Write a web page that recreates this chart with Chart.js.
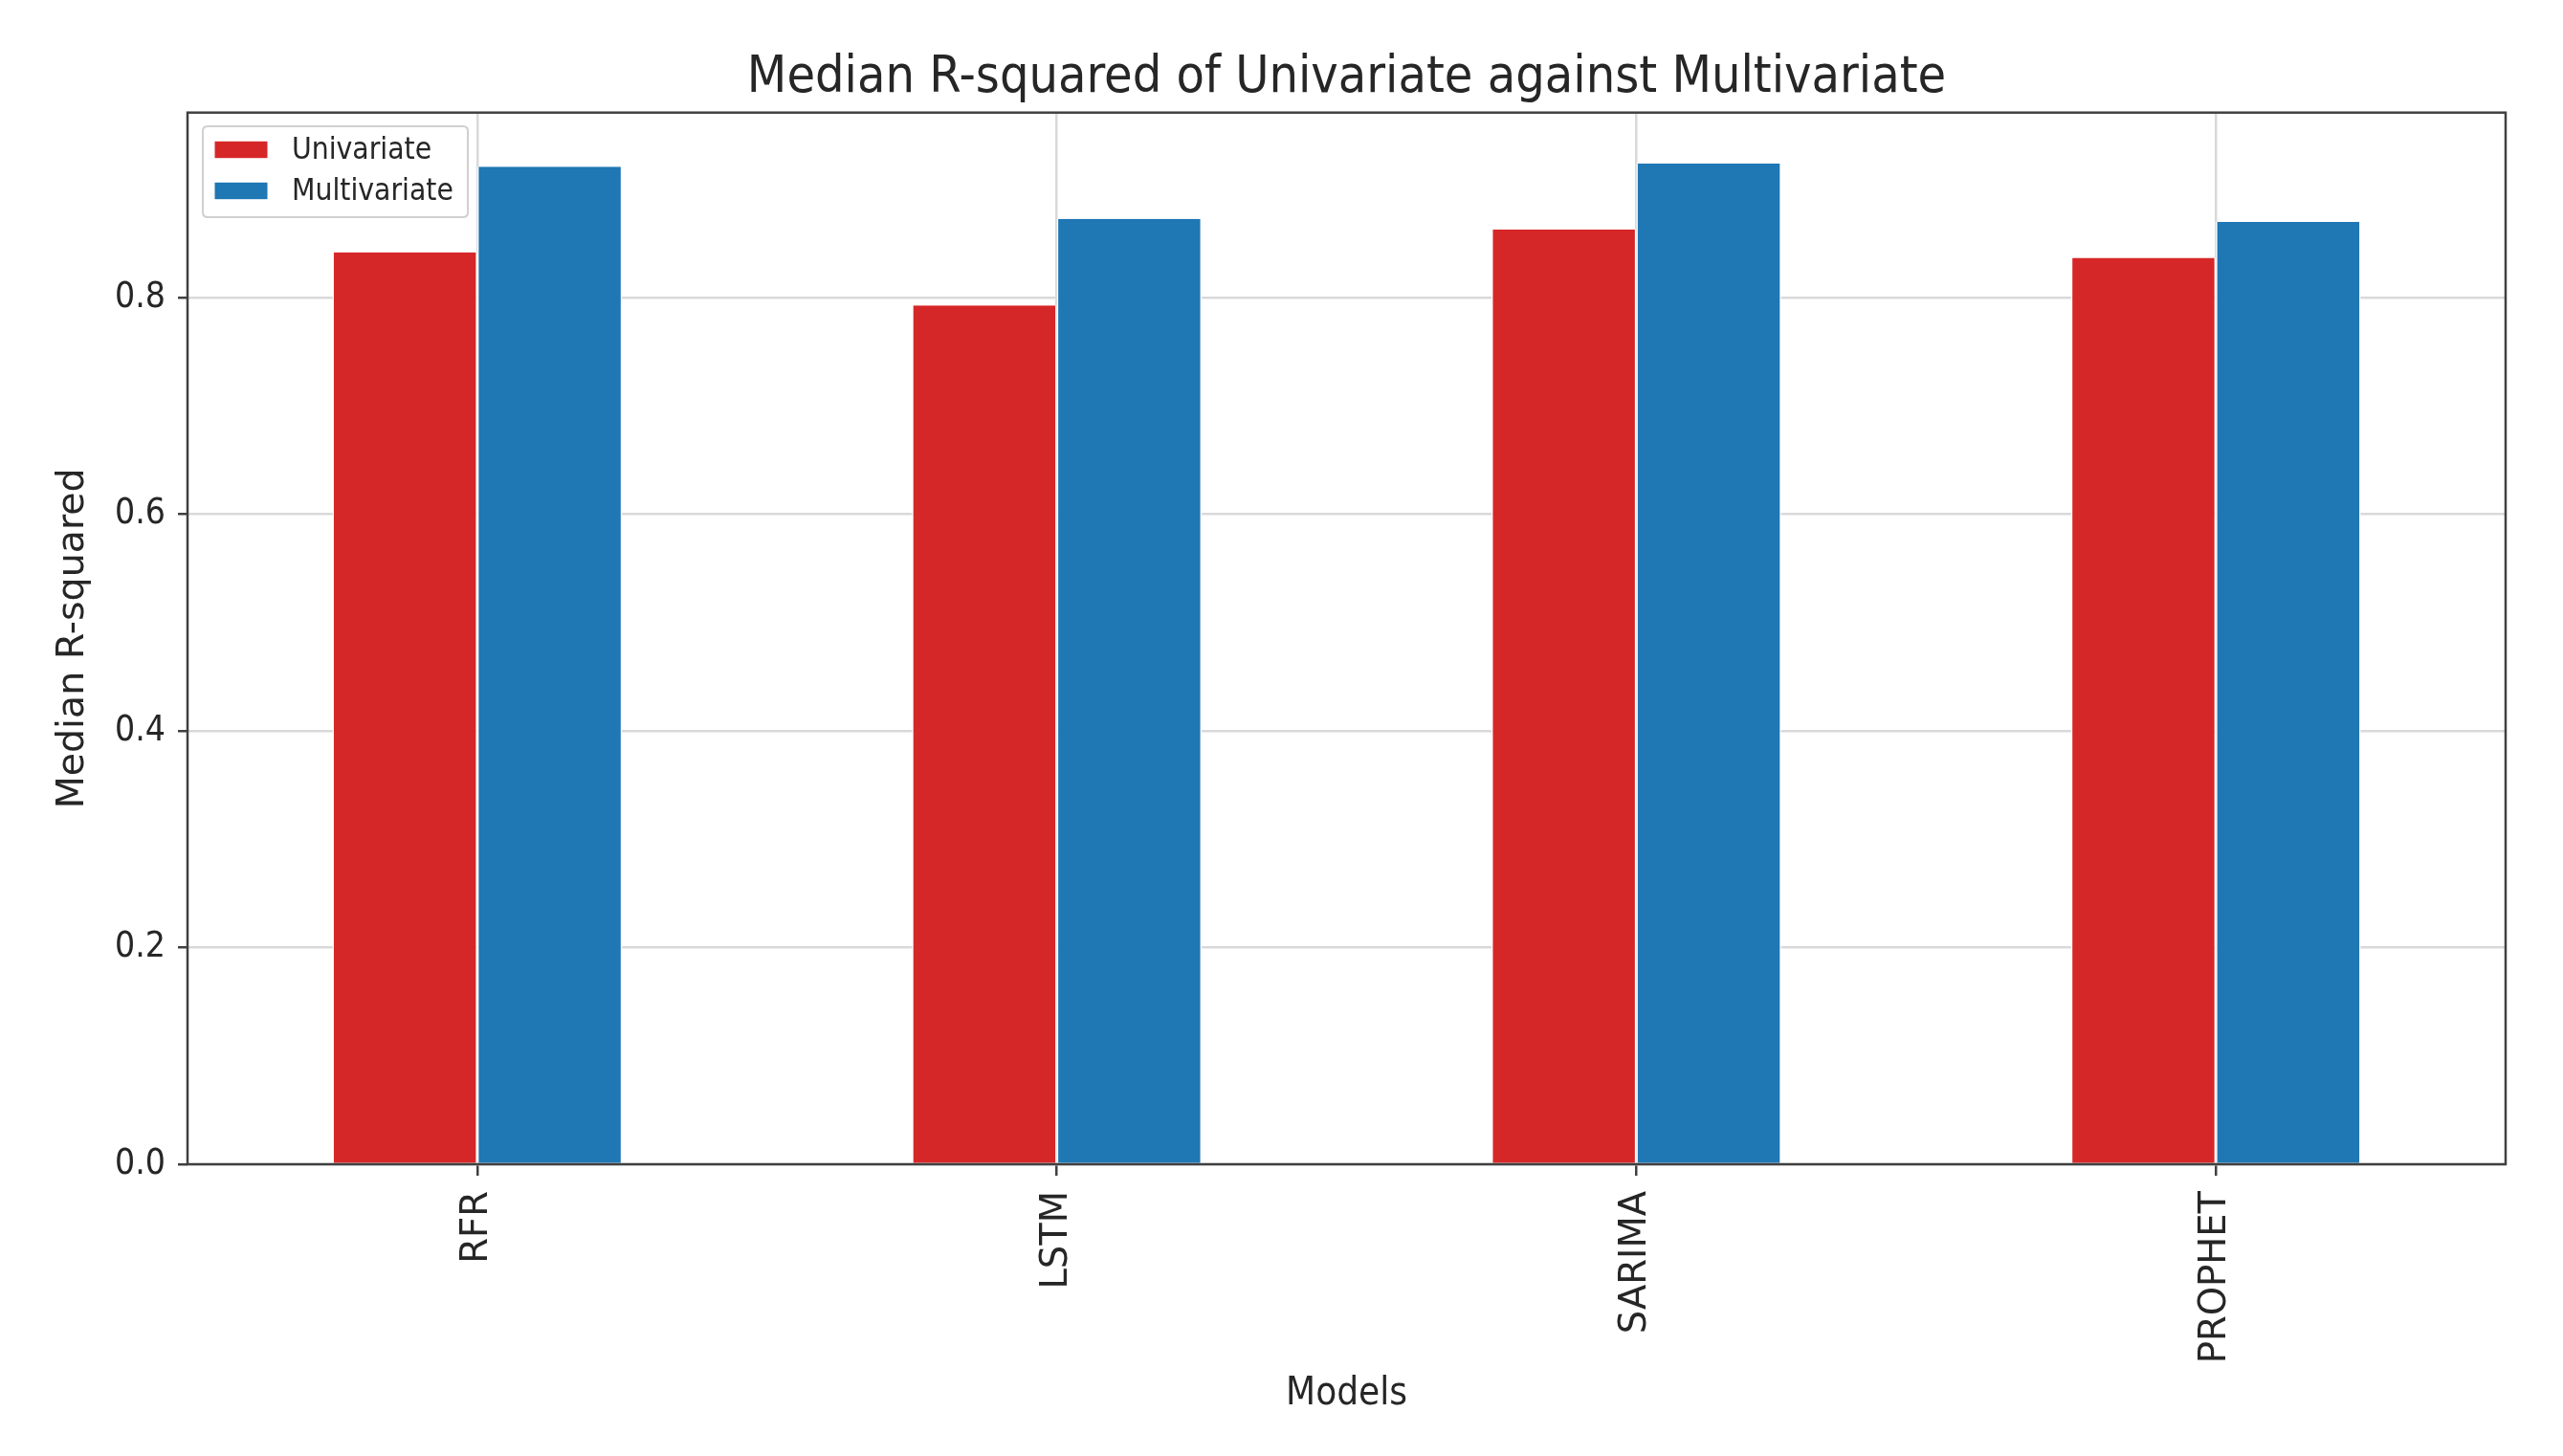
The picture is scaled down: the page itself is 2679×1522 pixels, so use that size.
<!DOCTYPE html>
<html>
<head>
<meta charset="utf-8">
<script src="https://cdn.jsdelivr.net/npm/chart.js@4"></script>
<style>
  html, body { margin: 0; padding: 0; background: #ffffff; }
  #wrap { width: 2679px; height: 1522px; position: relative; }
</style>
</head>
<body>
<div id="wrap"><canvas id="c" width="2679" height="1522"></canvas></div>
<script>
// ---- data ----
const categories = ['RFR', 'LSTM', 'SARIMA', 'PROPHET'];
const univariate = [0.842, 0.793, 0.863, 0.837];
const multivariate = [0.921, 0.873, 0.924, 0.870];
const yTickValues = [0.0, 0.2, 0.4, 0.6, 0.8];
const yMax = 0.971;
const seriesNames = ['Univariate', 'Multivariate'];
const titleText = 'Median R-squared of Univariate against Multivariate';
const xTitle = 'Models';
const yTitle = 'Median R-squared';

// ---- style ----
const RED = '#d62728';
const BLUE = '#1f77b4';
const TEXT = '#262626';
const SPINE = '#404040';
const GRID = '#d9d9d9';
const COND = '"DejaVu Sans Condensed", "DejaVu Sans", sans-serif';
const FULL = '"DejaVu Sans", sans-serif';

const framePlugin = {
  id: 'frame',
  afterDatasetsDraw(chart) {
    const {ctx, chartArea: a} = chart;
    ctx.save();
    ctx.strokeStyle = SPINE;
    ctx.lineWidth = 2.5;
    ctx.strokeRect(a.left, a.top, a.right - a.left, a.bottom - a.top);
    ctx.restore();
  }
};

const legendPlugin = {
  id: 'boxLegend',
  afterDraw(chart) {
    const {ctx} = chart;
    const x0 = 212, y0 = 132, w = 277, h = 95, r = 5;
    ctx.save();
    ctx.beginPath();
    ctx.moveTo(x0 + r, y0);
    ctx.lineTo(x0 + w - r, y0);
    ctx.quadraticCurveTo(x0 + w, y0, x0 + w, y0 + r);
    ctx.lineTo(x0 + w, y0 + h - r);
    ctx.quadraticCurveTo(x0 + w, y0 + h, x0 + w - r, y0 + h);
    ctx.lineTo(x0 + r, y0 + h);
    ctx.quadraticCurveTo(x0, y0 + h, x0, y0 + h - r);
    ctx.lineTo(x0, y0 + r);
    ctx.quadraticCurveTo(x0, y0, x0 + r, y0);
    ctx.closePath();
    ctx.fillStyle = 'rgba(255,255,255,0.8)';
    ctx.fill();
    ctx.strokeStyle = '#d0d0d0';
    ctx.lineWidth = 2;
    ctx.stroke();
    ctx.font = '31.5px ' + COND;
    ctx.textBaseline = 'middle';
    ctx.textAlign = 'left';
    chart.data.datasets.forEach((ds, i) => {
      const cy = 156.5 + i * 43;
      ctx.fillStyle = ds.backgroundColor;
      ctx.fillRect(224.5, cy - 8.7, 55, 17.4);
      ctx.fillStyle = TEXT;
      ctx.fillText(ds.label, 305, cy + 1);
    });
    ctx.restore();
  }
};

new Chart(document.getElementById('c'), {
  type: 'bar',
  data: {
    labels: categories,
    datasets: [
      { label: seriesNames[0], data: univariate, backgroundColor: RED,
        borderColor: '#ffffff', borderWidth: {left: 1.5, right: 1.5, top: 0, bottom: 0}, borderSkipped: false },
      { label: seriesNames[1], data: multivariate, backgroundColor: BLUE,
        borderColor: '#ffffff', borderWidth: {left: 1.5, right: 1.5, top: 0, bottom: 0}, borderSkipped: false }
    ]
  },
  options: {
    responsive: false,
    animation: false,
    devicePixelRatio: 1,
    layout: { padding: { left: 0, right: 60, top: 0, bottom: 0 } },
    datasets: { bar: { categoryPercentage: 0.5, barPercentage: 1.0 } },
    plugins: {
      legend: { display: false },
      tooltip: { enabled: false },
      title: {
        display: true,
        fullSize: false,
        text: titleText,
        color: TEXT,
        font: { family: COND, size: 53.5, weight: 'normal', lineHeight: 1.2 },
        padding: { top: 50.5, bottom: 3 }
      }
    },
    scales: {
      x: {
        type: 'category',
        offset: true,
        afterFit(scale) { scale.height = 305; },
        border: { display: false },
        grid: {
          offset: false,
          color: GRID,
          lineWidth: 2.5,
          drawTicks: true,
          tickLength: 12,
          tickColor: SPINE,
          tickWidth: 2.5
        },
        ticks: {
          color: TEXT,
          font: { family: FULL, size: 38.5 },
          minRotation: 90,
          maxRotation: 90,
          padding: 16,
          autoSkip: false
        },
        title: {
          display: true,
          text: xTitle,
          color: TEXT,
          font: { family: COND, size: 40 },
          padding: { top: 0, bottom: 40.5 }
        }
      },
      y: {
        type: 'linear',
        min: 0,
        max: yMax,
        afterFit(scale) { scale.width = 196; },
        afterBuildTicks(scale) { scale.ticks = yTickValues.map(v => ({ value: v })); },
        border: { display: false },
        grid: {
          color: GRID,
          lineWidth: 2.5,
          drawTicks: true,
          tickLength: 10,
          tickColor: SPINE,
          tickWidth: 2.5
        },
        ticks: {
          color: TEXT,
          font: { family: COND, size: 37 },
          padding: 13,
          callback: v => Number(v).toFixed(1)
        },
        title: {
          display: true,
          text: yTitle,
          color: TEXT,
          font: { family: FULL, size: 39.5 },
          padding: { top: 53, bottom: 0 }
        }
      }
    }
  },
  plugins: [framePlugin, legendPlugin]
});
</script>
</body>
</html>
